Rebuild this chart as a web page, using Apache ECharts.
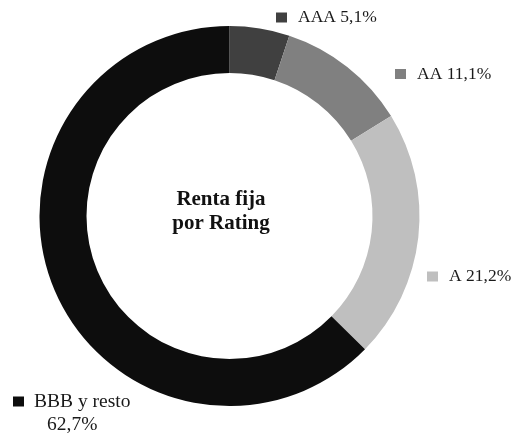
<!DOCTYPE html>
<html>
<head>
<meta charset="utf-8">
<script src="https://cdn.jsdelivr.net/npm/echarts@6/dist/echarts.min.js"></script>
<style>
html,body{margin:0;padding:0;background:#fff;}
#c{width:515px;height:434px;}
</style>
</head>
<body>
<div id="c"></div>
<script>
const categories = ['AAA', 'AA', 'A', 'BBB y resto'];
const values = [5.1, 11.1, 21.2, 62.7];
const colors = ['#404040', '#808080', '#bfbfbf', '#0d0d0d'];
const titleLines = ['Renta fija', 'por Rating'];

const fmt = v => v.toFixed(1).replace('.', ',') + '%';

const chart = echarts.init(document.getElementById('c'), null, {renderer: 'canvas'});

const LF = 'Liberation Serif';
const rich = {
  t: {fontFamily: LF, fontSize: 17.5, color: '#1a1a1a', padding: [0, 0, 0, 11], lineHeight: 22},
  tb: {fontFamily: LF, fontSize: 19.5, color: '#1a1a1a', padding: [0, 0, 0, 10], lineHeight: 23},
  sp: {width: 34, height: 10, lineHeight: 23},
  n: {fontFamily: LF, fontSize: 19.5, color: '#1a1a1a', lineHeight: 23}
};
colors.forEach((c, i) => {
  rich['sq' + i] = {backgroundColor: c, width: 11, height: 10};
});

const labelPos = [
  {x: 276, y: 17.5},
  {x: 395, y: 74},
  {x: 427, y: 276.5},
  {x: 13, y: 413}
];

chart.setOption({
  animation: false,
  graphic: [{
    type: 'text',
    x: 221,
    y: 212,
    style: {
      text: titleLines.join('\n'),
      fontFamily: 'Liberation Serif',
      fontWeight: 'bold',
      fontSize: 21,
      lineHeight: 24,
      fill: '#111',
      align: 'center',
      verticalAlign: 'middle'
    },
    z: 10
  }],
  series: [{
    type: 'pie',
    center: [229.5, 216],
    radius: [143, 190],
    startAngle: 90,
    clockwise: true,
    minShowLabelAngle: 0,
    avoidLabelOverlap: false,
    data: categories.map((name, i) => ({name, value: values[i], itemStyle: {color: colors[i]}})),
    label: {
      show: true,
      position: 'outside',
      alignTo: 'none',
      overflow: 'none',
      width: 200,
      formatter: p => {
        const i = p.dataIndex;
        if (i === 3) {
          return '{sq3|}{tb|' + categories[i] + '}\n{sp|}{n|' + fmt(values[i]) + '}';
        }
        return '{sq' + i + '|}{t|' + categories[i] + ' ' + fmt(values[i]) + '}';
      },
      rich: rich
    },
    labelLine: {show: false},
    labelLayout: p => ({
      x: labelPos[p.dataIndex].x,
      y: labelPos[p.dataIndex].y,
      align: 'left',
      verticalAlign: 'middle',
      hideOverlap: false
    }),
    emphasis: {disabled: true}
  }]
});
</script>
</body>
</html>
